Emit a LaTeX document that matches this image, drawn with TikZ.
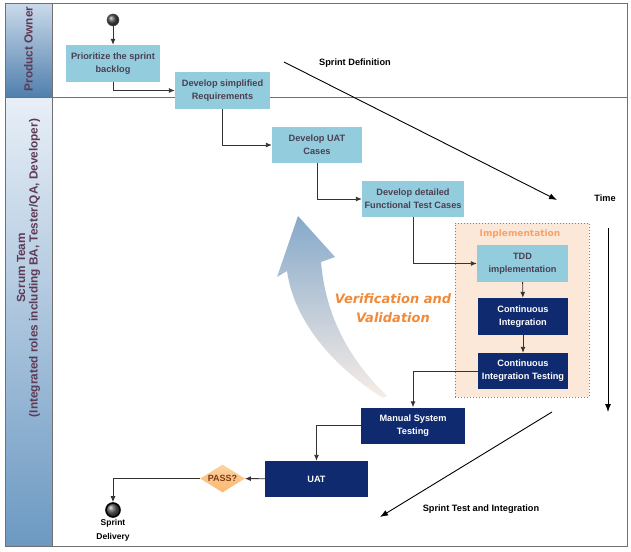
\documentclass[tikz,border=0pt]{standalone}
\usepackage{fontspec}
\setmainfont{Liberation Sans}
\newfontfamily\dejavu{DejaVu Sans}
\usetikzlibrary{arrows.meta,shapes.geometric}
\definecolor{lightbox}{HTML}{93CDDD}
\definecolor{navybox}{HTML}{0F2A6E}
\definecolor{boxtext}{HTML}{4B3F53}
\definecolor{peach}{HTML}{FCE8D9}
\definecolor{vvorange}{HTML}{F08A3A}
\definecolor{implorange}{HTML}{F5A366}
\definecolor{headtext}{HTML}{5E3A55}
\definecolor{framegray}{HTML}{707070}
\definecolor{linegray}{HTML}{333333}
\definecolor{passbrown}{HTML}{7A3A18}
\definecolor{passfill}{HTML}{FBBE78}
\definecolor{headtopA}{HTML}{C9D9EA}
\definecolor{headbotA}{HTML}{507FAD}
\definecolor{headtopB}{HTML}{E8EFF7}
\definecolor{headbotB}{HTML}{6C99C2}
\definecolor{vvtop}{HTML}{86A9CA}
\definecolor{vvbot}{HTML}{F7EDE6}
\tikzset{
  basebox/.style={rectangle, inner sep=0pt, align=center, font=\fontsize{9.2}{13}\selectfont\bfseries},
  lightstep/.style={basebox, fill=lightbox, text=boxtext},
  darkstep/.style={basebox, fill=navybox, text=white},
  conn/.style={draw=linegray, line width=0.9pt, -{Latex[length=6pt,width=5pt]}},
  bigconn/.style={draw=black, line width=0.9pt, -{Latex[length=8pt,width=6pt]}},
  plainlabel/.style={font=\fontsize{9.2}{13}\selectfont\bfseries, text=black, inner sep=0pt, align=center},
  headlabel/.style={font=\fontsize{11.8}{12.5}\selectfont\bfseries, text=headtext, rotate=90, align=center, inner sep=0pt},
}
\begin{document}
\begin{tikzpicture}[x=1pt,y=-1pt]
\useasboundingbox (0,0) rectangle (631,551);
% lane headers
\path[top color=headtopA, bottom color=headbotA] (5,4) rectangle (52,97);
\path[top color=headtopB, bottom color=headbotB] (5,97) rectangle (52,546);
\draw[framegray, line width=1pt] (5,4) rectangle (627,546);
\draw[framegray, line width=1pt] (5,97) -- (627,97);
\draw[framegray, line width=1pt] (52,4) -- (52,546);
\node[headlabel] (po) at (28.5,49) {Product Owner};
\node[headlabel] (st) at (28.5,268) {Scrum Team\\(Integrated roles including BA, Tester/QA, Developer)};
% implementation group
\node[draw=gray, dotted, line width=1pt, fill=peach, minimum width=134pt, minimum height=174pt, inner sep=0pt] (impl) at (522,310) {};
\node[font=\dejavu\fontsize{9}{11}\selectfont\bfseries, text=implorange, inner sep=0pt] (impllab) at (520,234) {Implementation};
% big verification arrow
\path[top color=vvtop, bottom color=vvbot, draw=none]
  (298,216) -- (335,257) -- (321,262)
  .. controls (326,320) and (352,362) .. (387,396)
  -- (383,398)
  .. controls (335,368) and (294,322) .. (287,271)
  -- (277,277) -- cycle;
\node[font=\dejavu\fontsize{13}{19}\selectfont\bfseries\itshape, text=vvorange, align=center, inner sep=0pt] (vv) at (393,308) {Verification and\\Validation};
% start
\node[circle, minimum size=12pt, inner sep=0pt, ball color=gray!60!black, draw=black!70, line width=0.5pt] (start) at (113,20) {};
% steps
\node[lightstep, minimum width=94pt, minimum height=37pt] (prio) at (113,63.5) {Prioritize the sprint\\backlog};
\node[lightstep, minimum width=95pt, minimum height=37pt] (devreq) at (222.5,90.5) {Develop simplified\\Requirements};
\node[lightstep, minimum width=90pt, minimum height=36pt] (uatc) at (317,145) {Develop UAT\\Cases};
\node[lightstep, minimum width=102pt, minimum height=36pt] (det) at (413,199) {Develop detailed\\Functional Test Cases};
\node[lightstep, minimum width=91pt, minimum height=37pt] (tdd) at (522.5,263.5) {TDD\\implementation};
\node[darkstep, minimum width=90pt, minimum height=37pt] (ci) at (523,316.5) {Continuous\\Integration};
\node[darkstep, minimum width=90pt, minimum height=36pt] (cit) at (523,371) {Continuous\\Integration Testing};
\node[darkstep, minimum width=104pt, minimum height=36pt] (man) at (413,425.5) {Manual System\\Testing};
\node[darkstep, minimum width=103pt, minimum height=36pt] (uat) at (316.5,479) {UAT};
\node[diamond, aspect=1.62, inner sep=1pt, top color=passfill!70!white, bottom color=passfill!90!orange, draw=none, font=\fontsize{9}{11}\selectfont\bfseries, text=passbrown] (pass) at (222.5,478.5) {PASS?};
\node[circle, minimum size=14pt, inner sep=0pt, draw=black, line width=1.6pt, ball color=gray!70!black] (endn) at (113,510) {};
\node[plainlabel, font=\fontsize{8.5}{14}\selectfont\bfseries] (endlab) at (113,530) {Sprint\\Delivery};
% connectors
\draw[conn] (start) -- (prio);
\draw[conn] (prio.south) |- (devreq.west);
\draw[conn] (devreq.south) |- (uatc.west);
\draw[conn] (uatc.south) |- (det.west);
\draw[conn] (det.south) |- (tdd.west);
\draw[conn] (tdd) -- (ci);
\draw[conn] (ci) -- (cit);
\draw[conn] (cit.west) -| (man.north);
\draw[conn] (man.west) -| (uat.north);
\draw[conn] (uat) -- (pass);
\draw[conn] (pass.west) -| (endn.north);
% timeline arrows
\coordinate (sdA) at (284,62);
\coordinate (sdB) at (557,200);
\draw[bigconn] (sdA) -- (sdB);
\node[plainlabel] (sdlab) at (355,63) {Sprint Definition};
\node[plainlabel] (timelab) at (605,198) {Time};
\coordinate (tA) at (608,228);
\coordinate (tB) at (608,412);
\draw[bigconn] (tA) -- (tB);
\coordinate (stA) at (552,412);
\coordinate (stB) at (380,517);
\draw[bigconn] (stA) -- (stB);
\node[plainlabel] (stlab) at (481,509) {Sprint Test and Integration};
\end{tikzpicture}
\end{document}
